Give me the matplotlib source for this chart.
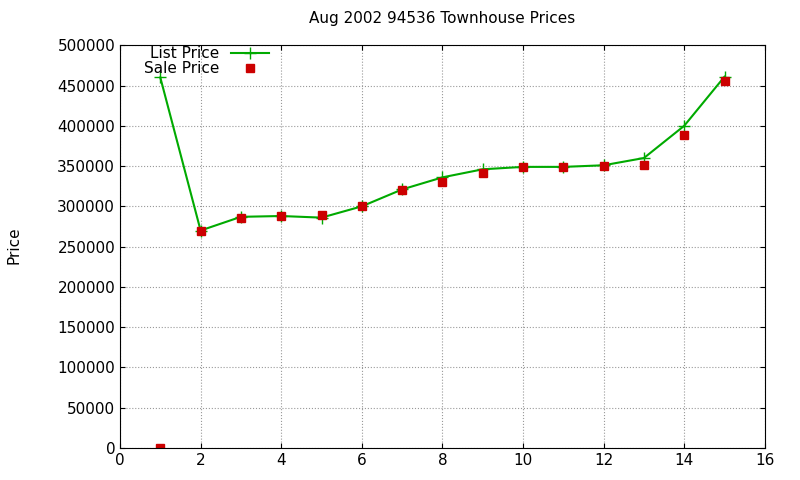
import matplotlib
matplotlib.use('Agg')
import matplotlib.pyplot as plt

months = list(range(1, 16))
list_price = [460000, 270000, 287000, 288000, 286000, 300000, 321000, 336000,
              346000, 349000, 349000, 351000, 360000, 400000, 461000]
sale_price = [0, 270000, 286000, 288000, 289000, 300000, 320000, 330000,
              342000, 349000, 349000, 350000, 351000, 389000, 456000]

fig = plt.figure(figsize=(8, 4.8), dpi=100)
ax = fig.add_axes([0.15, 0.0667, 0.806, 0.839])

ax.plot(months, list_price, color='#00aa00', marker='+', markersize=8,
        linewidth=1.5, label='List Price')
ax.plot(months, sale_price, color='#cc0000', marker='s', markersize=6,
        linestyle='none', label='Sale Price')

ax.set_xlim(0, 16)
ax.set_ylim(0, 500000)
ax.set_xticks(range(0, 17, 2))
ax.set_yticks(range(0, 500001, 50000))
ax.grid(True, color='#999999', linestyle=':', linewidth=0.8)
ax.tick_params(direction='in', labelsize=11, top=True, right=True)
ax.set_title('Aug 2002 94536 Townhouse Prices', fontsize=11, pad=16)
fig.text(0.008, 0.49, 'Price', rotation=90, fontsize=11, va='center')

leg = ax.legend(loc='upper left', bbox_to_anchor=(0.02, 1.025), frameon=False,
                fontsize=11, markerfirst=False, handlelength=2.5,
                labelspacing=0.0, borderpad=0.2)

fig.savefig('out.png', dpi=100)
